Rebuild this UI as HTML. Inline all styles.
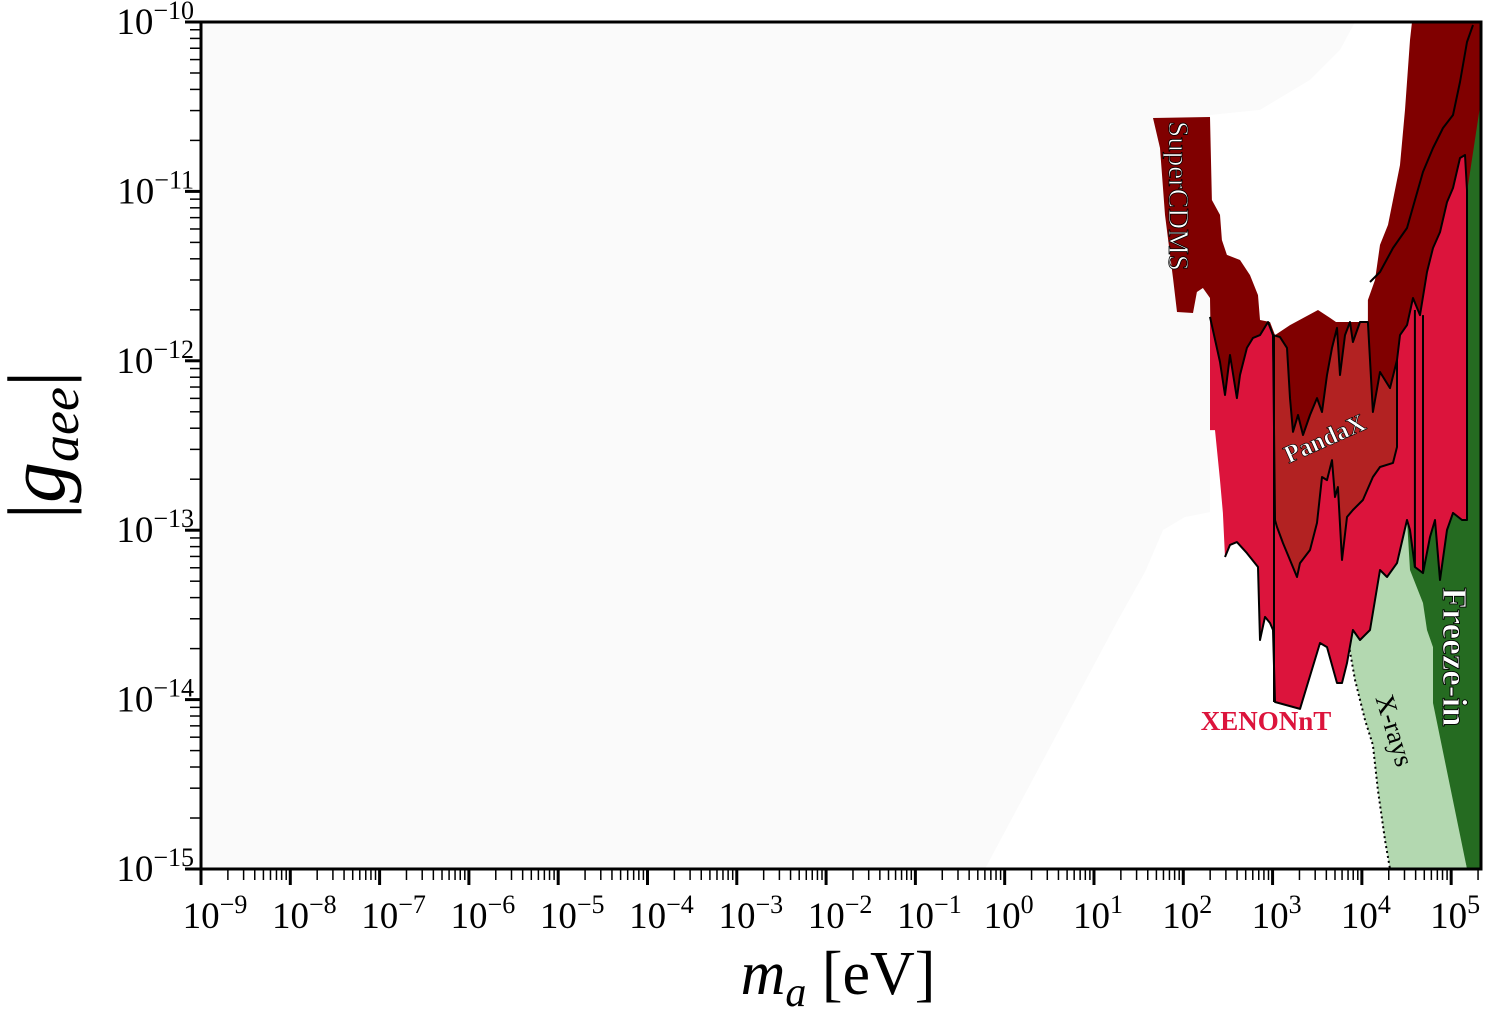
<!DOCTYPE html>
<html><head><meta charset="utf-8"><style>
html,body{margin:0;padding:0;background:#fff}
svg{display:block}
text{font-family:"Liberation Serif",serif}
</style></head><body>
<svg id="chart" width="1489" height="1019" viewBox="0 0 1489 1019" xmlns="http://www.w3.org/2000/svg">
<rect x="201" y="22" width="1280" height="847" fill="#fafafa"/>
<g id="regions"></g>
<g id="axes"></g>
<text x="838" y="994" font-size="62" text-anchor="middle"><tspan font-style="italic">m</tspan><tspan font-style="italic" font-size="42" dy="12">a</tspan><tspan dy="-12"> [eV]</tspan></text>
<text transform="translate(64,445) rotate(-90)" font-size="82" text-anchor="middle">|<tspan font-style="italic">g</tspan><tspan font-style="italic" font-size="54" dy="14">aee</tspan><tspan dy="-14">|</tspan></text>
<text transform="translate(1169,196) rotate(90)" font-size="29" text-anchor="middle" fill="#fff" stroke="#000" stroke-width="0.8">SuperCDMS</text>
<text transform="translate(1328,446) rotate(-24)" font-size="25" font-weight="bold" text-anchor="middle" fill="#fff" stroke="#000" stroke-width="0.7">PandaX</text>
<text x="1266" y="730" font-size="27" font-weight="bold" text-anchor="middle" fill="#dc143c">XENONnT</text>
<text transform="translate(1386,733) rotate(73)" font-size="27" text-anchor="middle" fill="#000">X-rays</text>
<text transform="translate(1443,657) rotate(90)" font-size="35" font-weight="bold" text-anchor="middle" fill="#fff" stroke="#000" stroke-width="0.9">Freeze-in</text>
</svg>
<script>
// axis domains (log10)
const xDomain = [-9, 5.334];
const yDomain = [-15, -10];
const xTickExps = [-9,-8,-7,-6,-5,-4,-3,-2,-1,0,1,2,3,4,5];
const yTickExps = [-15,-14,-13,-12,-11,-10];

// region boundaries: log10(m_a/eV), log10(g)
const whiteM = [-0.221,1.269,1.571,1.773,2.019,2.299,2.299,2.859,3.419,3.755,3.923,5.334,5.334];
const whiteG = [-15,-13.53,-13.247,-12.999,-12.922,-12.893,-10.549,-10.519,-10.342,-10.165,-10,-10,-15];

const darkRedM = [1.661,2.299,2.321,2.411,2.433,2.489,2.635,2.747,2.837,2.859,2.971,3.027,3.195,3.509,3.643,3.710,4.068,4.068,4.147,4.203,4.292,4.427,4.483,4.539,4.561,5.334,5.334,5.177,5.177,3.027,2.321,2.299,2.220,2.153,2.109,1.930,1.885,1.795,1.739];
const darkRedG = [-10.567,-10.561,-11.051,-11.139,-11.287,-11.375,-11.405,-11.494,-11.612,-11.759,-11.771,-11.848,-11.789,-11.700,-11.747,-11.771,-11.771,-11.641,-11.523,-11.316,-11.198,-10.844,-10.519,-10.106,-10,-10,-11.051,-11.051,-12.527,-12.527,-12.349,-11.629,-11.570,-11.594,-11.718,-11.712,-11.511,-11.139,-10.744];

const freezeM = [4.483,5.177,5.334,5.334,5.177,4.763,4.427,4.427];
const freezeG = [-12.969,-11.004,-10.460,-15,-15,-14.120,-13.412,-13.058];

const xrayM = [3.844,3.900,4.091,4.203,4.505,4.539,4.684,4.729,4.796,4.796,5.177,4.315,4.259,4.180,4.124,4.035,3.923];
const xrayG = [-13.648,-13.589,-13.589,-13.235,-12.940,-13.235,-13.430,-13.589,-13.690,-14.020,-15,-15,-14.829,-14.534,-14.268,-14.120,-13.884];
const xrayDotM = [3.844,3.923,4.035,4.124,4.180,4.259,4.315];
const xrayDotG = [-13.648,-13.884,-14.120,-14.268,-14.534,-14.829,-15];

const xenonM = [2.299,2.411,2.467,2.523,2.601,2.635,2.713,2.781,2.859,2.949,3.005,3.027,4.393,4.393,4.427,4.505,4.572,4.651,4.729,4.796,4.875,4.953,5.020,5.099,5.155,5.177,5.177,5.121,5.020,4.953,4.875,4.819,4.763,4.684,4.594,4.539,4.505,4.393,4.281,4.203,4.091,3.979,3.900,3.833,3.777,3.721,3.609,3.531,3.307,3.027,3.005,2.971,2.915,2.859,2.837,2.713,2.601,2.523,2.467,2.444,2.411,2.355,2.299];
const xenonG = [-11.741,-12.007,-12.202,-11.966,-12.220,-12.084,-11.924,-11.865,-11.848,-11.771,-11.848,-12.485,-12.485,-11.995,-11.848,-11.789,-11.629,-11.730,-11.476,-11.334,-11.240,-11.063,-10.980,-10.803,-10.785,-10.992,-12.940,-12.940,-12.898,-12.999,-13.294,-12.940,-13.040,-13.253,-13.217,-12.999,-12.940,-13.194,-13.276,-13.235,-13.589,-13.648,-13.589,-13.784,-13.902,-13.902,-13.690,-13.666,-14.055,-14.014,-13.589,-13.548,-13.512,-13.648,-13.217,-13.135,-13.070,-13.087,-13.158,-12.898,-12.704,-12.409,-12.409];

const pandaM = [3.005,3.083,3.162,3.195,3.229,3.285,3.341,3.419,3.497,3.553,3.609,3.665,3.721,3.755,3.811,3.867,3.900,3.979,4.068,4.124,4.203,4.315,4.393,4.393,4.348,4.203,4.124,4.012,3.900,3.833,3.777,3.732,3.699,3.665,3.609,3.553,3.497,3.419,3.307,3.274,3.195,3.117,3.049,3.027];
const pandaG = [-11.848,-11.860,-11.924,-12.220,-12.420,-12.320,-12.438,-12.320,-12.220,-12.302,-12.084,-11.924,-11.806,-12.084,-11.848,-11.771,-11.889,-11.771,-11.771,-12.302,-12.066,-12.161,-11.995,-12.509,-12.603,-12.627,-12.686,-12.822,-12.881,-12.922,-13.176,-12.745,-12.804,-12.586,-12.704,-12.686,-12.957,-13.117,-13.194,-13.276,-13.176,-13.076,-12.981,-12.940];

const innerLineM = [4.091,4.203,4.348,4.505,4.684,4.796,4.908,5.020,5.099,5.177,5.244];
const innerLineG = [-11.535,-11.476,-11.334,-11.216,-10.885,-10.744,-10.626,-10.549,-10.354,-10.118,-10.018];
const vLinesM = [3.016,4.594,4.684];
const vLinesTop = [-11.848,-11.7,-11.73];
const vLinesBot = [-14.014,-13.217,-13.253];

const X0=201, X1=1481, Y0=869, Y1=22;
function sx(l){ return X0 + (l - xDomain[0]) / (xDomain[1]-xDomain[0]) * (X1-X0); }
function sy(l){ return Y0 - (l - yDomain[0]) / (yDomain[1]-yDomain[0]) * (Y0-Y1); }
const NS='http://www.w3.org/2000/svg';
const regions=document.getElementById('regions');
const axes=document.getElementById('axes');
function pts(M,G,n){ let s=[]; for(let i=0;i<(n||M.length);i++) s.push(sx(M[i]).toFixed(1)+','+sy(G[i]).toFixed(1)); return s.join(' '); }
function poly(M,G,fill,name){
  const p=document.createElementNS(NS,'polygon');
  p.setAttribute('points',pts(M,G)); p.setAttribute('fill',fill);
  
  
  regions.appendChild(p); return p;
}
function line(M,G,n,name,dash){
  const p=document.createElementNS(NS,'polyline');
  p.setAttribute('points',pts(M,G,n)); p.setAttribute('fill','none');
  p.setAttribute('stroke','#000'); p.setAttribute('stroke-width','2');
  p.setAttribute('stroke-linejoin','round');
  if(dash) p.setAttribute('stroke-dasharray',dash);
  
  
  regions.appendChild(p); return p;
}
poly(whiteM,whiteG,'#ffffff','unconstrained-white-region');
poly(darkRedM,darkRedG,'#800000','supercdms-region');
poly(freezeM,freezeG,'#256b21','freeze-in-region');
poly(xrayM,xrayG,'#b3d8b0','xrays-region');
line(xrayDotM,xrayDotG,null,'xrays-dotted-boundary','2,3');
poly(xenonM,xenonG,'#dc143c','xenonnt-region');
line(xenonM,xenonG,xenonM.length-4,'xenonnt-boundary');
poly(pandaM,pandaG,'#b22222','pandax-region');
line(pandaM.concat([pandaM[0]]),pandaG.concat([pandaG[0]]),null,'pandax-boundary');
line(innerLineM,innerLineG,null,'upper-limit-line');
for(let i=0;i<vLinesM.length;i++){
  line([vLinesM[i],vLinesM[i]],[vLinesTop[i],vLinesBot[i]],null,'vertical-edge-line');
}
function ln(x1,y1,x2,y2,w,name){
  const l=document.createElementNS(NS,'line');
  l.setAttribute('x1',x1);l.setAttribute('y1',y1);l.setAttribute('x2',x2);l.setAttribute('y2',y2);
  l.setAttribute('stroke','#000');l.setAttribute('stroke-width',w);
  
  
  axes.appendChild(l);
}
ln(X0,Y1,X0,Y0,3,'y-axis-line');
ln(X0-1.5,Y0,X1+1.5,Y0,3,'x-axis-line');
ln(X0-1.5,Y1,X1+1.5,Y1,3,'top-frame-line');
ln(X1,Y1,X1,Y0,3,'right-frame-line');
function label(x,y,exp,anchor,name){
  const t=document.createElementNS(NS,'text');
  t.setAttribute('x',x);t.setAttribute('y',y);t.setAttribute('font-size','37');
  t.setAttribute('text-anchor',anchor);
  if(exp>=0) t.innerHTML='10<tspan font-size="26" dy="-15">'+exp+'</tspan>';
  else t.innerHTML='10<tspan font-size="26" dy="-15">\u2212'+Math.abs(exp)+'</tspan>';
  
  
  axes.appendChild(t);
}
xTickExps.forEach(e=>{
  const x=sx(e);
  ln(x,Y0,x,Y0+16,3,'x-major-tick');
  for(let k=2;k<10;k++){ const v=e+Math.log10(k); if(v<=xDomain[1]){ const xm=sx(v); ln(xm,Y0,xm,Y0+11,1.5,'x-minor-tick'); } }
  label(x+(e>=0?4:14), 928, e, 'middle', 'x-tick-label');
});
yTickExps.forEach(e=>{
  const y=sy(e);
  ln(X0-16,y,X0,y,3,'y-major-tick');
  if(e<-10){ for(let k=2;k<10;k++){ const ym=sy(e+Math.log10(k)); ln(X0-11,ym,X0,ym,1.5,'y-minor-tick'); } }
  label(194, y+12, e, 'end', 'y-tick-label');
});
</script>
</body></html>
